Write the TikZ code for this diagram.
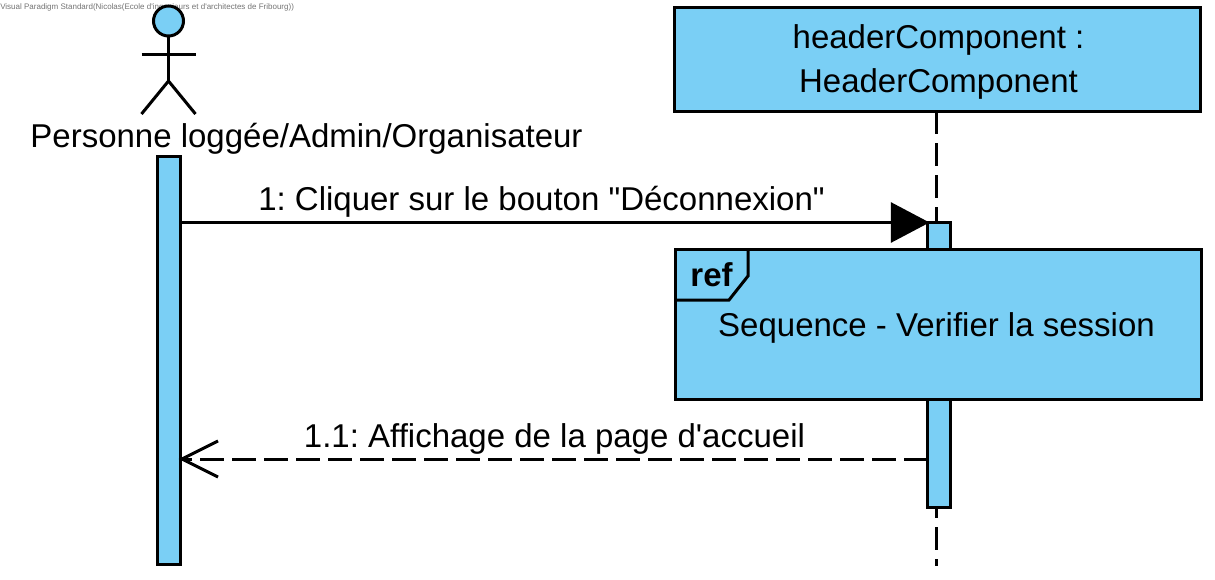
\documentclass[tikz,border=0pt]{standalone}
\usepackage{fontspec}
\setmainfont{Liberation Sans}[Ligatures=TeXOff]
\usetikzlibrary{arrows.meta}

\definecolor{umlblue}{RGB}{122,207,245}

\tikzset{
  umlline/.style={line width=2.25pt, black},
  bar/.style={umlline, fill=umlblue, minimum width=17.25pt, inner sep=0pt, outer sep=0pt},
  umlbox/.style={umlline, fill=umlblue, inner sep=0pt, outer sep=0pt, minimum width=394pt},
  umltext/.style={font=\fontsize{24.75}{30}\selectfont, inner sep=0pt, text=black},
  dashline/.style={umlline, dash pattern=on 17.5pt off 6.5pt}
}

\begin{document}
\frenchspacing
\begin{tikzpicture}[x=0.75pt, y=-0.75pt]

\useasboundingbox (0,0) rectangle (1215,579);

\node [anchor=west, inner sep=0pt, text=black!55, font=\fontsize{6}{7}\selectfont] (watermark) at (0,7.5)
  {Visual Paradigm Standard(Nicolas(Ecole d'ingenieurs et d'architectes de Fribourg))};

% actor
\node [umlline, circle, draw, fill=umlblue, minimum size=22.5pt, inner sep=0pt, outer sep=0pt] (head) at (168.5,21) {};
\coordinate (hip) at (168.5,81);
\coordinate (armL) at (141.5,54);
\coordinate (armR) at (195.5,54);
\coordinate (footL) at (141.5,114);
\coordinate (footR) at (195.5,114);
\draw [umlline] (head) -- (hip);
\draw [umlline] (armL) -- (armR);
\draw [umlline] (footL) -- (hip) -- (footR);
\node [umltext] (actor) at (306.5,139) {Personne loggée/Admin/Organisateur};

% lifeline
\node [umlbox, draw, minimum height=78pt] (header) at (937.5,59) {};
\node [umltext, align=center, font=\fontsize{24.75}{33.5}\selectfont] (headerText) at (938.5,62)
  {headerComponent :\\HeaderComponent};
\coordinate (lifeEnd) at (936,566);
\draw [dashline] (header.south -| lifeEnd) -- (lifeEnd);

% activations
\node [bar, draw, minimum height=306pt] (barActor) at (168.5,360) {};
\node [bar, draw, minimum height=213.75pt] (barHeader) at (939,365) {};

% ref frame
\node [umlbox, draw, minimum height=112pt, minimum width=395pt] (refFrame) at (938.5,324.5) {};
\coordinate (tabA) at (748,250);
\coordinate (tabB) at (748,276);
\coordinate (tabC) at (729,300);
\coordinate (tabD) at (675,300);
\draw [umlline] (tabA) -- (tabB) -- (tabC) -- (tabD);
\node [umltext, font=\fontsize{24.75}{30}\bfseries\selectfont] (refLabel) at (711.5,275) {ref};
\node [umltext] (refText) at (936.5,328) {Sequence - Verifier la session};

% messages
\draw [umlline, shorten >=-1.5pt, -{Triangle[length=29pt, width=30pt]}] (barActor.east |- barHeader.north) -- (barHeader.north west);
\node [umltext] (msgOne) at (541.5,202) {1: Cliquer sur le bouton "Déconnexion"};

\coordinate (retStart) at (barHeader.west |- 0,459);
\draw [dashline, shorten >=-1pt, -{Straight Barb[length=27pt, width=27pt]}] (retStart) -- (retStart -| barActor.east);
\node [umltext] (msgTwo) at (554.5,439) {1.1: Affichage de la page d'accueil};

\end{tikzpicture}
\end{document}
